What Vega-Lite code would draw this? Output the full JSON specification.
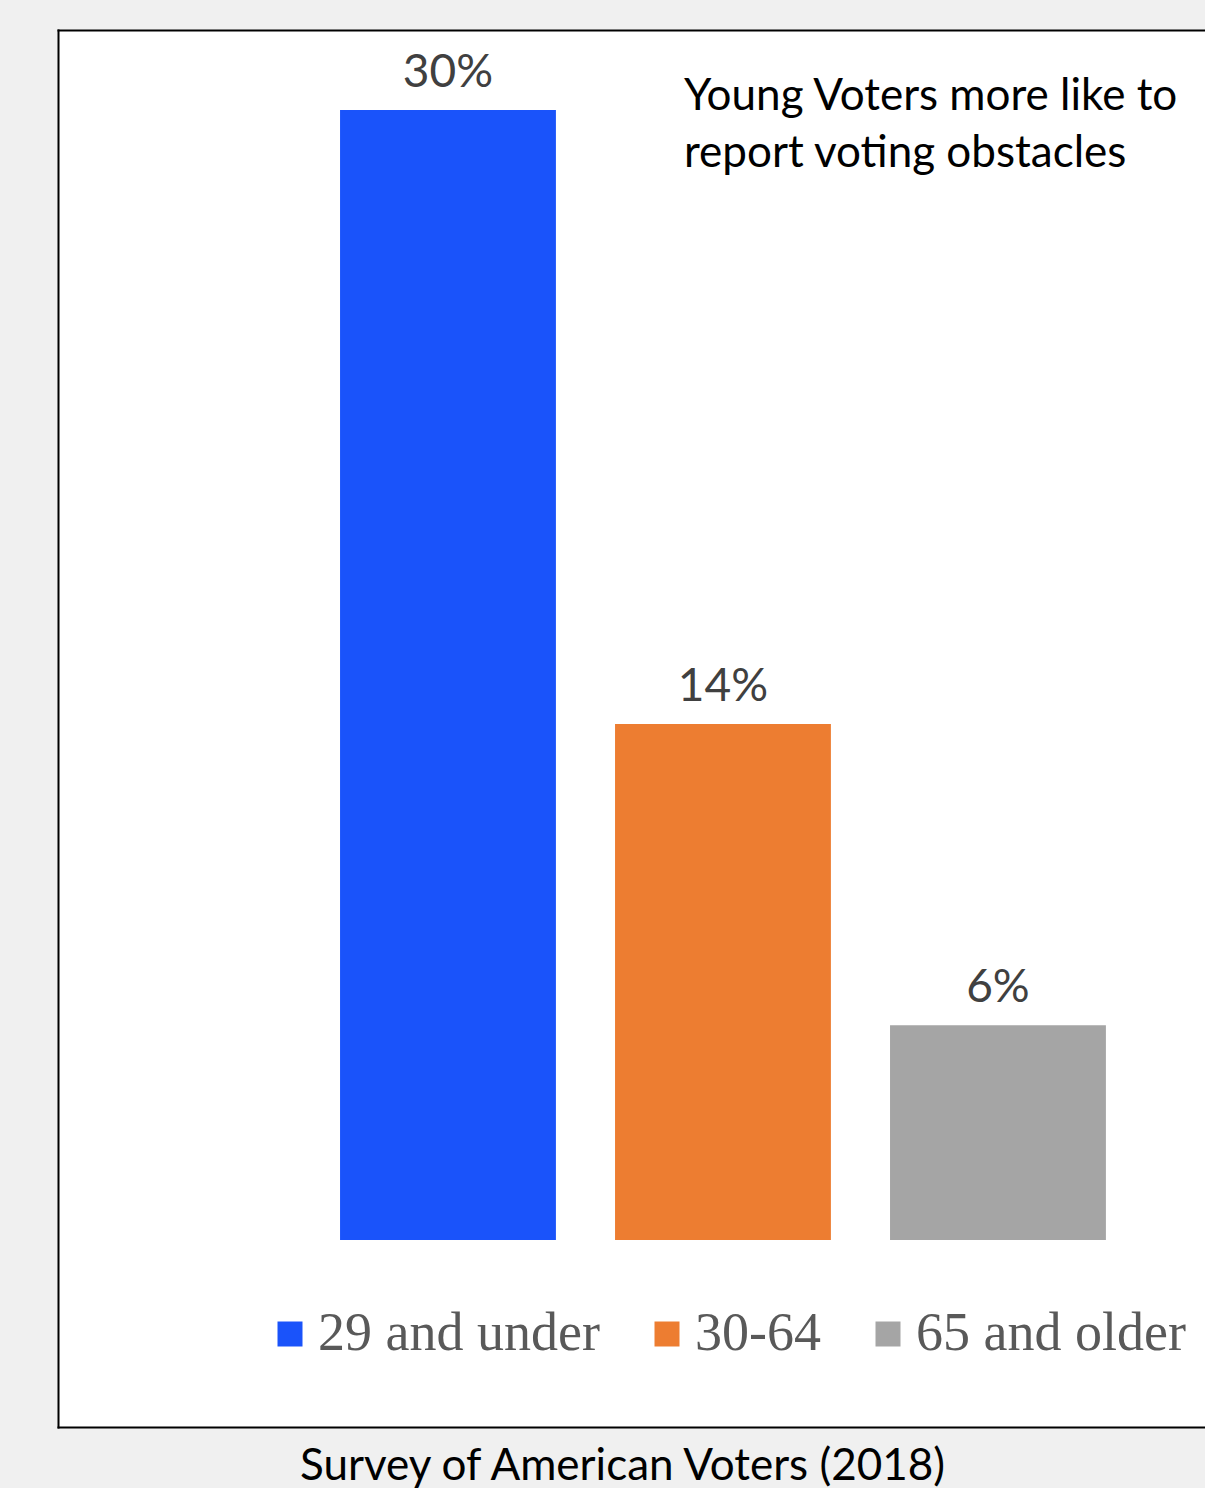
{
  "$schema": "https://vega.github.io/schema/vega-lite/v6.json",
  "width": 1147,
  "height": 1397,
  "autosize": {"type": "none"},
  "padding": {"left": 58, "top": 30, "right": 0, "bottom": 61},
  "background": "#f0f0f0",
  "config": {
    "view": {"fill": "white", "stroke": null},
    "font": "Lato"
  },
  "title": {
    "text": "Survey of American Voters (2018)",
    "orient": "bottom",
    "anchor": "middle",
    "font": "Lato",
    "fontSize": 44,
    "fontWeight": "normal",
    "color": "#000000",
    "offset": 18,
    "dx": -9
  },
  "data": {
    "values": [
      {"group": "29 and under", "value": 30, "label": "30%"},
      {"group": "30-64", "value": 13.7, "label": "14%"},
      {"group": "65 and older", "value": 5.7, "label": "6%"}
    ]
  },
  "resolve": {"axis": {"x": "independent"}},
  "layer": [
    {
      "mark": {"type": "bar"},
      "encoding": {
        "x": {
          "field": "group",
          "type": "nominal",
          "sort": null,
          "scale": {"paddingInner": 0.215, "paddingOuter": 0.693, "align": 0.74},
          "axis": {"orient": "bottom", "labels": false, "ticks": false, "title": null, "grid": false, "domainColor": "#000000", "domainWidth": 2, "domainCap": "square"}
        },
        "y": {
          "field": "value",
          "type": "quantitative",
          "scale": {"domain": [-4.965, 32.124], "zero": false, "nice": false},
          "axis": {"orient": "left", "labels": false, "ticks": false, "title": null, "grid": false, "domainColor": "#000000", "domainWidth": 2, "domainCap": "square"}
        },
        "y2": {"datum": 0},
        "color": {
          "field": "group",
          "type": "nominal",
          "sort": null,
          "scale": {"domain": ["29 and under", "30-64", "65 and older"], "range": ["#1a53fa", "#ed7d31", "#a5a5a5"]},
          "legend": {
            "orient": "none",
            "legendX": 205,
            "legendY": 1277,
            "direction": "horizontal",
            "title": null,
            "padding": 0,
            "symbolType": "square",
            "symbolSize": 625,
            "symbolStrokeWidth": 0,
            "symbolOpacity": 1,
            "labelFont": "Liberation Serif",
            "labelFontSize": 54,
            "labelColor": "#595959",
            "labelOffset": 1,
            "labelLimit": 0,
            "columnPadding": 40
          }
        }
      }
    },
    {
      "mark": {"type": "text", "baseline": "alphabetic", "align": "center", "dy": -23, "font": "Lato", "fontSize": 46, "color": "#404040"},
      "encoding": {
        "x": {
          "field": "group",
          "type": "nominal",
          "sort": null,
          "axis": {"orient": "top", "labels": false, "ticks": false, "title": null, "grid": false, "domainColor": "#000000", "domainWidth": 2, "domainCap": "square"}
        },
        "y": {"field": "value", "type": "quantitative"},
        "text": {"field": "label", "type": "nominal"}
      }
    },
    {
      "data": {"values": [{"note": "Young Voters more like to\nreport voting obstacles"}]},
      "mark": {"type": "text", "baseline": "alphabetic", "align": "left", "dx": -39, "font": "Lato", "fontSize": 44, "lineHeight": 57, "lineBreak": "\n", "color": "#000000"},
      "encoding": {
        "x": {"datum": "30-64", "type": "nominal", "axis": null},
        "y": {"datum": 30, "type": "quantitative"},
        "text": {"field": "note", "type": "nominal"}
      }
    }
  ]
}
